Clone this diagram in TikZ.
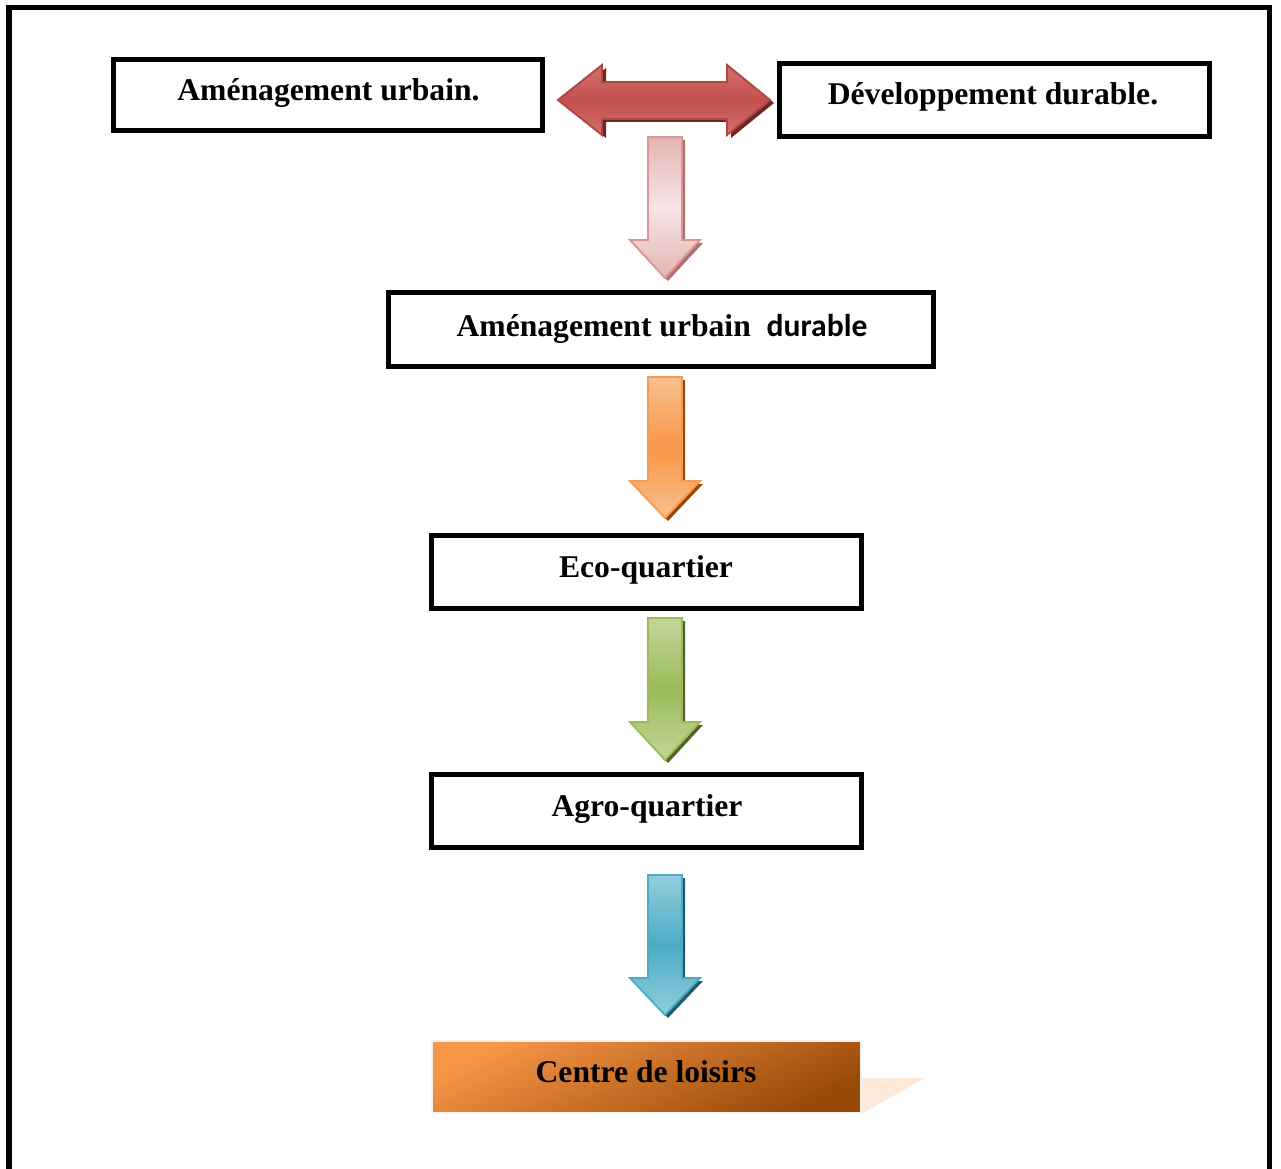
\documentclass[tikz,border=0pt]{standalone}
\usepackage{fontspec}
\setmainfont{Liberation Serif}
\newfontfamily\calibfont{Carlito}
\definecolor{redA}{HTML}{D8716E}
\definecolor{redB}{HTML}{C0504D}
\definecolor{redS}{HTML}{6E2523}
\definecolor{pinkA}{HTML}{E6B3B2}
\definecolor{pinkB}{HTML}{F6E6E6}
\definecolor{pinkL}{HTML}{D99694}
\definecolor{pinkS}{HTML}{B06F6D}
\definecolor{orA}{HTML}{FAC090}
\definecolor{orB}{HTML}{F79646}
\definecolor{orL}{HTML}{F59A55}
\definecolor{orS}{HTML}{984807}
\definecolor{grA}{HTML}{C3D69B}
\definecolor{grB}{HTML}{9BBB59}
\definecolor{grL}{HTML}{9BBB59}
\definecolor{grS}{HTML}{4F6228}
\definecolor{blA}{HTML}{93CDDD}
\definecolor{blB}{HTML}{4BACC6}
\definecolor{blL}{HTML}{4BACC6}
\definecolor{blS}{HTML}{215968}
\definecolor{brown}{HTML}{984807}
\definecolor{peach}{HTML}{FDE9D9}
\newcommand\downshape[3]{(648,#1) -- (682,#1) -- (682,#2) -- (700,#2) -- (665,#3) -- (630,#2) -- (648,#2) -- cycle}
\newcommand\blkdown[7]{%
  \fill[#7, shift={(3,3)}] \downshape{#1}{#2}{#3};
  \draw[#6, line width=1.1pt, line join=miter, top color=#4, bottom color=#4, middle color=#5] \downshape{#1}{#2}{#3};
}
\begin{document}
\begin{tikzpicture}[x=0.02cm,y=-0.02cm,
  box/.style={draw, line width=2.85pt, inner sep=0pt, fill=white},
  lbl/.style={font=\fontsize{18}{21}\selectfont\bfseries, anchor=base, inner sep=0pt}]
\useasboundingbox (0,0) rectangle (1281,1169);
\begin{scope}
\clip (0,0) rectangle (1281,1169);
\draw[line width=3.1pt] (9,1200) -- (9,7.5) -- (1269.5,7.5) -- (1269.5,1200);
\end{scope}

% boxes
\node[box, minimum width=8.58cm, minimum height=1.42cm] (b1) at (328,95) {};
\node[lbl] (t1) at (328.5,101) {Aménagement urbain.};
\node[box, minimum width=8.60cm, minimum height=1.46cm] (b2) at (994.5,100) {};
\node[lbl] (t2) at (993,105) {Développement durable.};
\node[box, minimum width=10.90cm, minimum height=1.48cm] (b3) at (661,329.5) {};
\node[lbl] (t3) at (662,336) {Aménagement urbain \ {\calibfont durable}};
\node[box, minimum width=8.60cm, minimum height=1.46cm] (b4) at (646.5,572) {};
\node[lbl] (t4) at (646,577) {Eco-quartier};
\node[box, minimum width=8.60cm, minimum height=1.46cm] (b5) at (646.5,811) {};
\node[lbl] (t5) at (647,816) {Agro-quartier};

% Centre de loisirs with shadow
\fill[peach] (858,1078) -- (925,1078) -- (863,1113) -- (858,1113) -- cycle;
\node[draw=black!5, line width=1.2pt, minimum width=8.58cm, minimum height=1.44cm, inner sep=0pt,
      top color=orB, bottom color=brown, shading angle=25] (b6) at (646.5,1077) {};
\node[lbl] (t6) at (646,1082) {Centre de loisirs};

% double arrow
\fill[redS, shift={(4,3)}] (558,100) -- (602,65) -- (602,82) -- (727,82) -- (727,65) -- (770,100) -- (727,135) -- (727,119) -- (602,119) -- (602,135) -- cycle;
\draw[redB!90!black, line width=1.1pt, top color=redA, bottom color=redA, middle color=redB]
  (558,100) -- (602,65) -- (602,82) -- (727,82) -- (727,65) -- (770,100) -- (727,135) -- (727,119) -- (602,119) -- (602,135) -- cycle;

% down arrows
\blkdown{137}{240}{278}{pinkA}{pinkB}{pinkL}{pinkS}
\blkdown{377}{481}{518}{orA}{orB}{orL}{orS}
\blkdown{618}{722}{760}{grA}{grB}{grL}{grS}
\blkdown{875}{978}{1015}{blA}{blB}{blL}{blS}
\end{tikzpicture}
\end{document}
